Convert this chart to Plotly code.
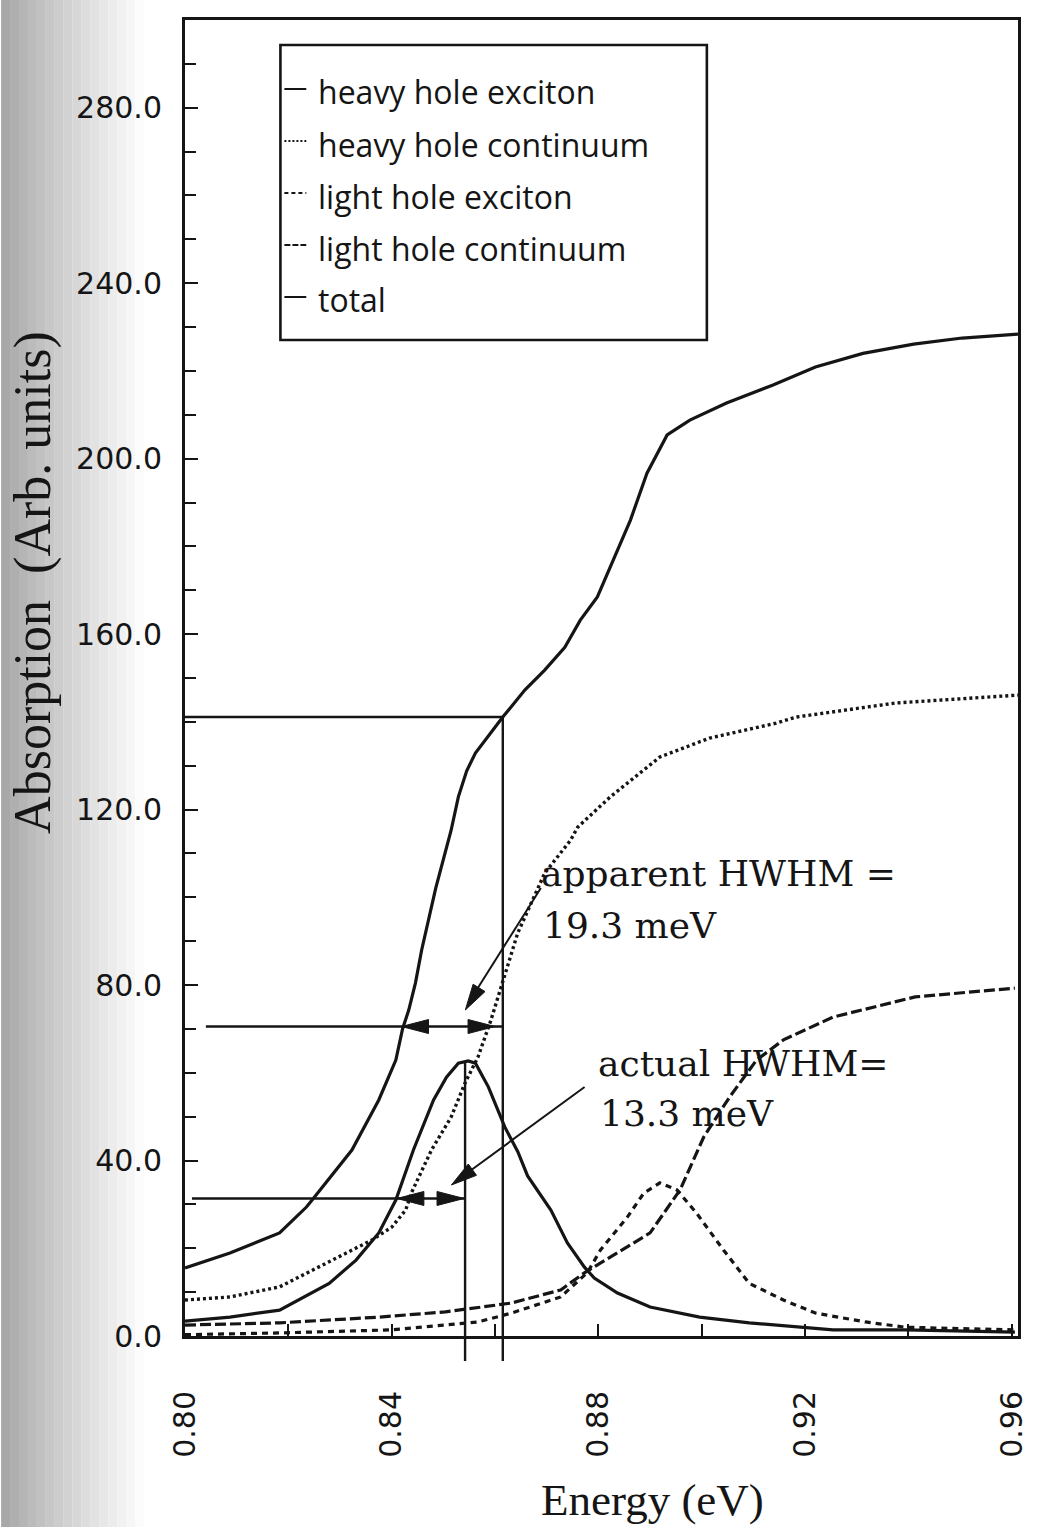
import plotly.graph_objects as go

# ---------------- data ----------------
# heavy hole exciton (solid)
e_hh_exciton = [0.8000, 0.8087, 0.8183, 0.8279, 0.8331, 0.8375, 0.8408, 0.8442, 0.8481,
                0.8506, 0.8529, 0.8548, 0.8562, 0.8587, 0.8619, 0.8644, 0.8663, 0.8708,
                0.8740, 0.8773, 0.8792, 0.8837, 0.8900, 0.8996, 0.9092, 0.9254, 0.9394, 0.9606]
a_hh_exciton = [3.4, 4.3, 5.9, 12.0, 17.3, 23.5, 31.0, 42.4, 53.8,
                59.0, 62.2, 62.7, 62.2, 56.8, 47.6, 42.0, 36.5, 28.7,
                21.2, 15.7, 13.2, 9.8, 6.6, 4.3, 3.0, 1.4, 1.4, 0.9]

# heavy hole continuum (dotted)
e_hh_continuum = [0.8000, 0.8087, 0.8183, 0.8246, 0.8312, 0.8362, 0.8400, 0.8427, 0.8438,
                  0.8477, 0.8515, 0.8542, 0.8567, 0.8592, 0.8644, 0.8696, 0.8746, 0.8760,
                  0.8823, 0.8919, 0.9015, 0.9144, 0.9183, 0.9375, 0.9612]
a_hh_continuum = [8.2, 8.9, 11.2, 15.0, 18.9, 21.9, 24.8, 28.7, 32.6,
                  42.4, 49.9, 57.7, 63.6, 72.0, 91.9, 105.5, 113.0, 116.0,
                  122.9, 132.0, 136.3, 139.7, 141.1, 144.3, 146.1]

# light hole exciton (short dashes)
e_lh_exciton = [0.8000, 0.8183, 0.8400, 0.8567, 0.8631, 0.8727, 0.8779, 0.8804, 0.8856, 0.8888,
                0.8919, 0.8952, 0.8990, 0.9042, 0.9092, 0.9158, 0.9221, 0.9317, 0.9394, 0.9606]
a_lh_exciton = [0.3, 0.7, 1.4, 3.2, 5.2, 8.9, 14.5, 19.6, 27.1, 32.6,
                34.9, 33.3, 28.0, 19.6, 12.0, 8.2, 5.2, 3.2, 2.0, 1.4]

# light hole continuum (long dashes)
e_lh_continuum = [0.8000, 0.8183, 0.8375, 0.8504, 0.8631, 0.8727, 0.8773, 0.8837, 0.8900,
                  0.8958, 0.9004, 0.9054, 0.9106, 0.9158, 0.9254, 0.9413, 0.9606]
a_lh_continuum = [2.5, 3.0, 4.3, 5.5, 7.5, 10.5, 14.4, 18.9, 23.5,
                  33.3, 45.4, 54.5, 62.9, 67.5, 72.7, 77.3, 79.3]

# total (solid)
e_total = [0.8000, 0.8087, 0.8183, 0.8235, 0.8246, 0.8323, 0.8375, 0.8408, 0.8421, 0.8433,
           0.8446, 0.8458, 0.8485, 0.8515, 0.8529, 0.8545, 0.8562, 0.8615, 0.8658, 0.8696,
           0.8735, 0.8765, 0.8798, 0.8823, 0.8862, 0.8894, 0.8933, 0.8977, 0.9048, 0.9138,
           0.9220, 0.9312, 0.9410, 0.9504, 0.9612]
a_total = [15.5, 18.9, 23.5, 29.4, 31.0, 42.4, 53.8, 62.9, 70.0, 74.3,
           80.5, 88.0, 102.0, 115.3, 122.9, 128.8, 132.9, 141.1, 147.3, 151.8,
           157.0, 163.2, 168.5, 175.3, 186.0, 196.7, 205.4, 208.8, 212.7, 216.8,
           220.9, 224.0, 226.1, 227.5, 228.4]

series_names = ["heavy hole exciton", "heavy hole continuum", "light hole exciton",
                "light hole continuum", "total"]

# HWHM construction values
peak_energy, peak_value = 0.8542, 62.7          # heavy hole exciton maximum
apparent_energy, apparent_value = 0.8615, 141.1  # total at the shoulder
apparent_label = ["apparent HWHM =", "19.3 meV"]
actual_label = ["actual HWHM=", "13.3 meV"]

# ---------------- geometry / style ----------------
X_MIN, X_MAX = 0.80, 0.9612
Y_MIN, Y_MAX = 0.0, 300.0
W, H = 1041, 1527
PL, PR, PT, PB = 185, 1023, 20, 1336
INK = "#151515"


def pxx(p):
    return (p - PL) / (PR - PL)


def pxy(p):
    return (PB - p) / (PB - PT)


def ex(e):
    return (e - X_MIN) / (X_MAX - X_MIN)


def vy(v):
    return (v - Y_MIN) / (Y_MAX - Y_MIN)


styles = [
    dict(width=3.2),
    dict(width=3.4, dash="3px,3px"),
    dict(width=3.2, dash="6px,5px"),
    dict(width=3.2, dash="11px,4px"),
    dict(width=3.2),
]
xs = [e_hh_exciton, e_hh_continuum, e_lh_exciton, e_lh_continuum, e_total]
ys = [a_hh_exciton, a_hh_continuum, a_lh_exciton, a_lh_continuum, a_total]

fig = go.Figure()
for name, x, y, st in zip(series_names, xs, ys, styles):
    fig.add_trace(go.Scatter(x=x, y=y, mode="lines", name=name,
                             line=dict(color=INK, **st), showlegend=False))

shapes = []
# scanned-page shadow on the left
n_strips = 16
for i in range(n_strips):
    g = int(168 + (252 - 168) * (i / (n_strips - 1)) ** 0.9)
    shapes.append(dict(type="rect", xref="paper", yref="paper", layer="below",
                       x0=pxx(i * 9), x1=pxx(i * 9 + 9), y0=pxy(H), y1=pxy(0),
                       fillcolor=f"rgb({g},{g},{g})", line=dict(width=0)))

LW = 2.4
line_style = dict(color=INK, width=LW)
ext_bottom = pxy(1361)
# horizontal at total value
shapes.append(dict(type="line", xref="paper", yref="paper", x0=0, x1=ex(apparent_energy),
                   y0=vy(apparent_value), y1=vy(apparent_value), line=line_style))
# vertical lines extending below the axis
shapes.append(dict(type="line", xref="paper", yref="paper", x0=ex(apparent_energy), x1=ex(apparent_energy),
                   y0=ext_bottom, y1=vy(apparent_value), line=line_style))
shapes.append(dict(type="line", xref="paper", yref="paper", x0=ex(peak_energy), x1=ex(peak_energy),
                   y0=ext_bottom, y1=vy(peak_value), line=line_style))
# half-maximum lines
shapes.append(dict(type="line", xref="paper", yref="paper", x0=pxx(206), x1=ex(apparent_energy),
                   y0=vy(apparent_value / 2), y1=vy(apparent_value / 2), line=line_style))
shapes.append(dict(type="line", xref="paper", yref="paper", x0=pxx(192), x1=ex(peak_energy),
                   y0=vy(peak_value / 2), y1=vy(peak_value / 2), line=line_style))


def head(xa, ya, path):
    return dict(type="path", xref="x", yref="y", xsizemode="pixel", ysizemode="pixel",
                xanchor=xa, yanchor=ya, path=path, fillcolor=INK, line=dict(color=INK, width=1))


LEFT = "M0,0 L27,7 L27,-7 Z"
RIGHT = "M0,0 L-27,7 L-27,-7 Z"
shapes.append(head(0.8419, apparent_value / 2, LEFT))
shapes.append(head(0.8600, apparent_value / 2, RIGHT))
shapes.append(head(0.8410, peak_value / 2, LEFT))
shapes.append(head(0.8540, peak_value / 2, RIGHT))

# diagonal pointer arrows
shapes.append(dict(type="line", xref="paper", yref="paper", x0=pxx(543), y0=pxy(888),
                   x1=pxx(472), y1=pxy(1000), line=dict(color=INK, width=2)))
shapes.append(dict(type="path", xref="paper", yref="paper", xsizemode="pixel", ysizemode="pixel",
                   xanchor=pxx(467), yanchor=pxy(1010), path="M0,0 L19.7,18.4 L7.8,25.8 Z",
                   fillcolor=INK, line=dict(color=INK, width=1)))
shapes.append(dict(type="line", xref="paper", yref="paper", x0=pxx(587), y0=pxy(1087),
                   x1=pxx(462), y1=pxy(1178), line=dict(color=INK, width=2)))
shapes.append(dict(type="path", xref="paper", yref="paper", xsizemode="pixel", ysizemode="pixel",
                   xanchor=pxx(453), yanchor=pxy(1185), path="M0,0 L25.1,9.7 L16.9,21.0 Z",
                   fillcolor=INK, line=dict(color=INK, width=1)))

# manual legend
shapes.append(dict(type="rect", xref="paper", yref="paper", x0=pxx(281), x1=pxx(710),
                   y0=pxy(340), y1=pxy(45), line=dict(color=INK, width=2.6), fillcolor="white"))
legend_y = [89, 141, 193, 245, 297]
legend_dash = ["solid", "2px,2px", "4px,3px", "6px,2px", "solid"]
annotations = []
for name, yy, dsh in zip(series_names, legend_y, legend_dash):
    shapes.append(dict(type="line", xref="paper", yref="paper", x0=pxx(285), x1=pxx(307),
                       y0=pxy(yy), y1=pxy(yy), line=dict(color=INK, width=2, dash=dsh)))
    annotations.append(dict(xref="paper", yref="paper", x=pxx(317), y=pxy(yy + 3),
                            xanchor="left", yanchor="middle", showarrow=False, text=name,
                            font=dict(family="Open Sans", size=32, color=INK)))

serif = dict(family="DejaVu Serif", size=36, color=INK)
for txt, xx, yy in [(apparent_label[0], 541, 873), (apparent_label[1], 543, 925),
                    (actual_label[0], 598, 1063), (actual_label[1], 600, 1113)]:
    annotations.append(dict(xref="paper", yref="paper", x=pxx(xx), y=pxy(yy), xanchor="left",
                            yanchor="middle", showarrow=False, text=txt, font=serif))

# axis titles
annotations.append(dict(xref="paper", yref="paper", x=pxx(655), y=pxy(1500), showarrow=False,
                        text="Energy (eV)", xanchor="center", yanchor="middle",
                        font=dict(family="Liberation Serif", size=45, color=INK)))
annotations.append(dict(xref="paper", yref="paper", x=pxx(32), y=pxy(582), showarrow=False,
                        text="Absorption  (Arb. units)", textangle=-90, xanchor="center",
                        yanchor="middle", font=dict(family="Liberation Serif", size=52, color=INK)))

fig.update_layout(
    width=W, height=H,
    margin=dict(l=PL, r=W - PR, t=PT, b=H - PB),
    paper_bgcolor="white", plot_bgcolor="white",
    showlegend=False,
    shapes=shapes, annotations=annotations,
)

fig.update_xaxes(range=[X_MIN, X_MAX], showline=True, linewidth=3, linecolor=INK, mirror=True,
                 showgrid=False, zeroline=False,
                 ticks="inside", ticklen=12, tickwidth=2, tickcolor=INK,
                 tick0=0.80, dtick=0.04, tickformat=".2f", tickangle=-90,
                 ticklabelstandoff=40,
                 tickfont=dict(family="DejaVu Sans", size=30, color=INK),
                 minor=dict(ticks="inside", ticklen=12, tickwidth=2, tickcolor=INK,
                            tick0=0.80, dtick=0.02, showgrid=False))
fig.update_yaxes(range=[Y_MIN, Y_MAX], showline=True, linewidth=3, linecolor=INK, mirror=True,
                 showgrid=False, zeroline=False,
                 ticks="inside", ticklen=13, tickwidth=2, tickcolor=INK,
                 tick0=0, dtick=40, tickformat=".1f",
                 ticklabelstandoff=14,
                 tickfont=dict(family="DejaVu Sans", size=30, color=INK),
                 minor=dict(ticks="inside", ticklen=11, tickwidth=2, tickcolor=INK,
                            tick0=0, dtick=10, showgrid=False))

fig.write_html("out.html")
